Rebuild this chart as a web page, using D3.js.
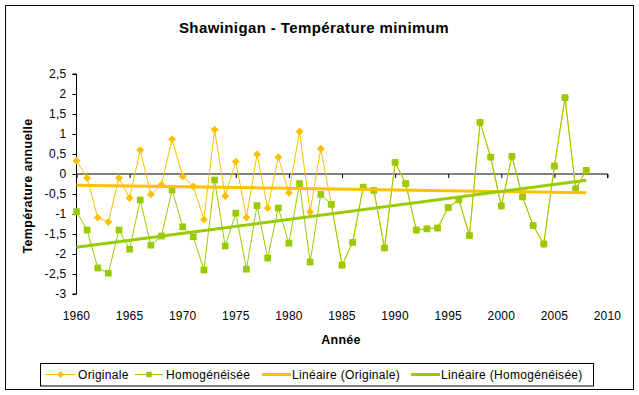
<!DOCTYPE html>
<html lang="fr">
<head>
<meta charset="utf-8">
<title>Shawinigan - Température minimum</title>
<script src="https://cdn.jsdelivr.net/npm/d3@7/dist/d3.min.js"></script>
<style>
  body { margin: 0; background: #fff; }
  text { font-family: Arial, "Liberation Sans", sans-serif; }
</style>
</head>
<body>
<script>
// data
var years = d3.range(1960, 2009);
var originale = [
  0.33, -0.10, -1.09, -1.20, -0.10, -0.60, 0.60, -0.51, -0.27, 0.87,
  -0.06, -0.31, -1.14, 1.11, -0.55, 0.31, -1.09, 0.49, -0.85, 0.42,
  -0.47, 1.06, -0.95, 0.63, -0.76, -2.28, -1.71, -0.33, -0.41, -1.85,
  0.29, -0.24, -1.40, -1.37, -1.35, -0.84, -0.64, -1.54, 1.29, 0.42,
  -0.80, 0.44, -0.57, -1.29, -1.75, 0.20, 1.91, -0.37, 0.09
];
var homogeneisee = [
  -0.94, -1.40, -2.35, -2.48, -1.40, -1.88, -0.65, -1.78, -1.55, -0.40,
  -1.32, -1.57, -2.40, -0.15, -1.80, -0.98, -2.38, -0.79, -2.10, -0.85,
  -1.73, -0.24, -2.20, -0.51, -0.76, -2.28, -1.71, -0.33, -0.41, -1.85,
  0.29, -0.24, -1.40, -1.37, -1.35, -0.84, -0.64, -1.54, 1.29, 0.42,
  -0.80, 0.44, -0.57, -1.29, -1.75, 0.20, 1.91, -0.37, 0.09
];
var xTicks = d3.range(1960, 2011, 5);
var yTicks = [2.5, 2, 1.5, 1, 0.5, 0, -0.5, -1, -1.5, -2, -2.5, -3];
var legendLabels = ["Originale", "Homogénéisée", "Linéaire (Originale)", "Linéaire (Homogénéisée)"];

var cOrange = "#FFC000", cGreen = "#99CC00";
var W = 639, H = 395;

var svg = d3.select("body").append("svg").attr("width", W).attr("height", H);

svg.append("rect").attr("x", 5.5).attr("y", 5.5).attr("width", 628).attr("height", 384)
  .attr("fill", "#fff").attr("stroke", "#000").attr("stroke-width", 1);

var x = d3.scaleLinear().domain([1960, 2010]).range([76.5, 607.5]);
var y = d3.scaleLinear().domain([-3, 2.5]).range([294, 74]);

// title
svg.append("text").attr("x", 314).attr("y", 33).attr("text-anchor", "middle")
  .attr("font-size", 15).attr("letter-spacing", 0.4).attr("font-weight", "bold")
  .text("Shawinigan - Température minimum");

// y axis
var fmt = function(d) { return String(d).replace(".", ","); };
var yAxis = svg.append("g").attr("transform", "translate(76.5,0)")
  .call(d3.axisLeft(y).tickValues(yTicks).tickFormat(fmt).tickSize(4).tickPadding(6));
yAxis.selectAll("text").attr("font-size", 12).attr("letter-spacing", 0.3)
  .attr("font-family", "Arial, 'Liberation Sans', sans-serif").attr("fill", "#000");
yAxis.select(".domain").attr("d", "M-4," + y(-3) + "H0V" + y(2.5) + "H-4").attr("stroke", "#000");

// x axis at zero, labels at bottom
var xAxis = svg.append("g").attr("transform", "translate(0," + y(0) + ")")
  .call(d3.axisBottom(x).tickValues(xTicks).tickFormat(d3.format("d")).tickSize(4));
xAxis.selectAll("text").remove();
xAxis.select(".domain").attr("d", "M" + x(1960) + ",0H" + x(2010) + "V4").attr("stroke", "#000");
svg.append("g").selectAll("text").data(xTicks).enter().append("text")
  .attr("x", function(d) { return x(d); }).attr("y", 320)
  .attr("text-anchor", "middle").attr("font-size", 12).attr("letter-spacing", 0.2)
  .text(function(d) { return d; });

// axis titles
svg.append("text").attr("x", 341).attr("y", 344).attr("text-anchor", "middle")
  .attr("font-size", 12.5).attr("letter-spacing", 0.3).attr("font-weight", "bold").text("Année");
svg.append("text").attr("transform", "translate(32,186) rotate(-90)").attr("text-anchor", "middle")
  .attr("font-size", 12.5).attr("letter-spacing", 0.3).attr("font-weight", "bold").text("Température annuelle");

// linear trend (least squares)
function trend(vals) {
  var mx = d3.mean(years), my = d3.mean(vals);
  var sxy = d3.sum(years, function(t, i) { return (t - mx) * (vals[i] - my); });
  var sxx = d3.sum(years, function(t) { return (t - mx) * (t - mx); });
  var b = sxy / sxx, a = my - b * mx;
  return [[years[0], a + b * years[0]], [years[years.length - 1], a + b * years[years.length - 1]]];
}

var line = d3.line().x(function(d) { return x(d[0]); }).y(function(d) { return y(d[1]); });
var pairs = function(vals) { return years.map(function(t, i) { return [t, vals[i]]; }); };

var diamond = d3.symbol().type(d3.symbolDiamond2).size(40);
var square = d3.symbol().type(d3.symbolSquare).size(45);

// Originale
svg.append("path").attr("d", line(pairs(originale))).attr("fill", "none").attr("stroke", cOrange).attr("stroke-width", 1);
svg.append("g").selectAll("path").data(pairs(originale)).enter().append("path")
  .attr("d", diamond).attr("fill", cOrange)
  .attr("transform", function(d) { return "translate(" + x(d[0]) + "," + y(d[1]) + ")"; });

// Homogénéisée
svg.append("path").attr("d", line(pairs(homogeneisee))).attr("fill", "none").attr("stroke", cGreen).attr("stroke-width", 1);
svg.append("g").selectAll("path").data(pairs(homogeneisee)).enter().append("path")
  .attr("d", square).attr("fill", cGreen)
  .attr("transform", function(d) { return "translate(" + x(d[0]) + "," + y(d[1]) + ")"; });

// trends
svg.append("path").attr("d", line(trend(originale))).attr("fill", "none").attr("stroke", cOrange).attr("stroke-width", 3);
svg.append("path").attr("d", line(trend(homogeneisee))).attr("fill", "none").attr("stroke", cGreen).attr("stroke-width", 3);

// legend
svg.append("rect").attr("x", 40.5).attr("y", 363.5).attr("width", 553).attr("height", 22.5)
  .attr("fill", "#fff").attr("stroke", "#000");
var leg = [
  { x0: 45, x1: 76, tx: 78, c: cOrange, w: 1, sym: diamond },
  { x0: 135, x1: 163, tx: 166, c: cGreen, w: 1, sym: square },
  { x0: 262, x1: 291, tx: 292, c: cOrange, w: 3, sym: null },
  { x0: 411, x1: 440, tx: 441, c: cGreen, w: 3, sym: null }
];
var lg = svg.append("g").selectAll("g").data(leg).enter().append("g");
lg.append("line").attr("x1", function(d) { return d.x0; }).attr("x2", function(d) { return d.x1; })
  .attr("y1", 374.5).attr("y2", 374.5).attr("stroke", function(d) { return d.c; })
  .attr("stroke-width", function(d) { return d.w; });
lg.filter(function(d) { return d.sym; }).append("path")
  .attr("d", function(d) { return d.sym.size(30)(); }).attr("fill", function(d) { return d.c; })
  .attr("transform", function(d) { return "translate(" + (d.x0 + d.x1) / 2 + ",374.5)"; });
lg.append("text").attr("x", function(d) { return d.tx; }).attr("y", 379)
  .attr("font-size", 12).attr("letter-spacing", 0.3).text(function(d, i) { return legendLabels[i]; });
</script>
</body>
</html>
